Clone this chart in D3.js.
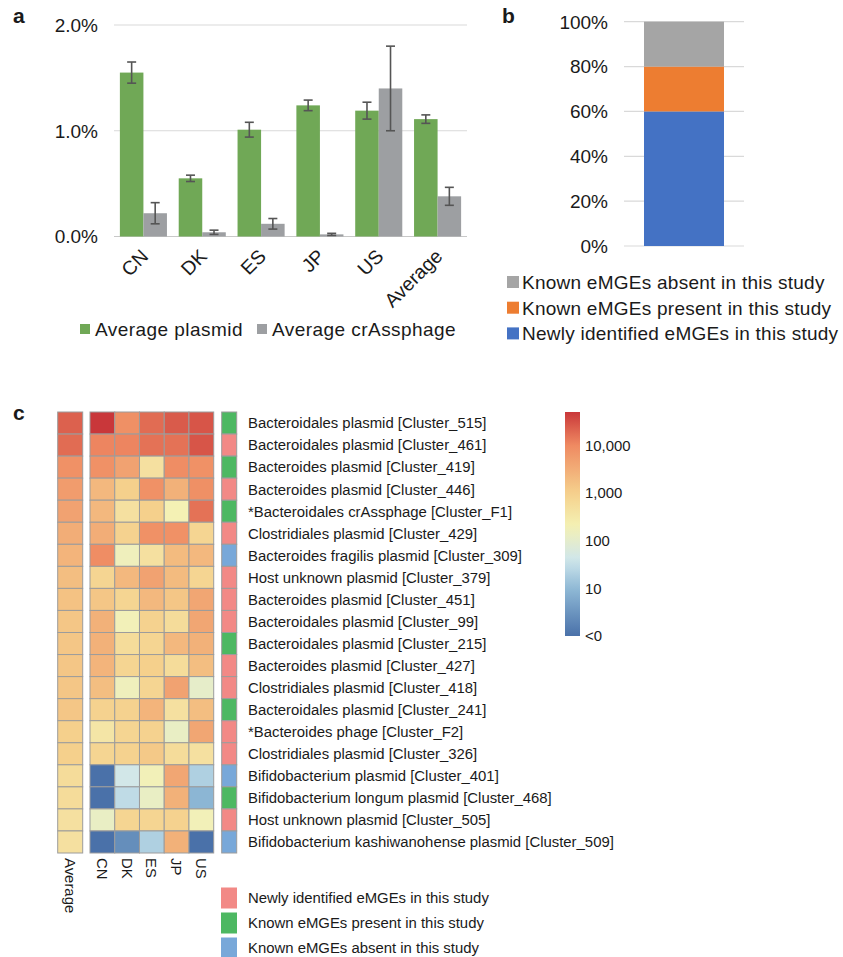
<!DOCTYPE html>
<html><head><meta charset="utf-8">
<script src="https://cdn.jsdelivr.net/npm/d3@7"></script>
<style>
body{margin:0;background:#fff}
svg text{font-family:"Liberation Sans",Arial,Helvetica,sans-serif;fill:#1a1a1a}
</style></head><body>
<svg id="fig" width="843" height="957"></svg>
<script>
// ---- panel a: relative abundance per site ----
const sites = ["CN", "DK", "ES", "JP", "US", "Average"];
const plasmidMean = [1.55, 0.55, 1.01, 1.24, 1.19, 1.11];
const plasmidErr  = [0.10, 0.03, 0.07, 0.05, 0.08, 0.04];
const phageMean   = [0.22, 0.04, 0.12, 0.02, 1.40, 0.38];
const phageErr    = [0.10, 0.02, 0.05, 0.01, 0.40, 0.085];
const barSeries   = ["Average plasmid", "Average crAssphage"];
const yTicksA     = [0, 1, 2];

// ---- panel b: composition of eMGE clusters ----
const groupNames  = ["Newly identified eMGEs in this study", "Known eMGEs present in this study", "Known eMGEs absent in this study"];
const groupShares = [60, 20, 20];
const yTicksB     = [0, 20, 40, 60, 80, 100];

// ---- panel c: abundance of top clusters ----
const clusters = [
  "Bacteroidales plasmid [Cluster_515]",
  "Bacteroidales plasmid [Cluster_461]",
  "Bacteroides plasmid [Cluster_419]",
  "Bacteroides plasmid [Cluster_446]",
  "*Bacteroidales crAssphage [Cluster_F1]",
  "Clostridiales plasmid [Cluster_429]",
  "Bacteroides fragilis plasmid [Cluster_309]",
  "Host unknown plasmid [Cluster_379]",
  "Bacteroides plasmid [Cluster_451]",
  "Bacteroidales plasmid [Cluster_99]",
  "Bacteroidales plasmid [Cluster_215]",
  "Bacteroides plasmid [Cluster_427]",
  "Clostridiales plasmid [Cluster_418]",
  "Bacteroidales plasmid [Cluster_241]",
  "*Bacteroides phage [Cluster_F2]",
  "Clostridiales plasmid [Cluster_326]",
  "Bifidobacterium plasmid [Cluster_401]",
  "Bifidobacterium longum plasmid [Cluster_468]",
  "Host unknown plasmid [Cluster_505]",
  "Bifidobacterium kashiwanohense plasmid [Cluster_509]"
];
// 0 = newly identified, 1 = known & present, 2 = known & absent
const clusterGroup = [1,0,1,0,1,0,2,0,0,0,1,0,0,1,0,0,2,1,0,2];
const countries = ["CN", "DK", "ES", "JP", "US"];
const avgAbund = [22000,18000,8000,5600,4500,3200,2500,1800,1600,1400,1400,1400,1400,1400,1000,1000,560,560,450,450];
const cnAbund  = [50000,11000,8000,2200,2200,3200,9000,800,1400,2800,2800,2500,1800,900,350,800,0,0,125,0];
const dkAbund  = [8300,11000,4500,1000,450,900,160,2200,800,180,560,800,160,900,800,900,45,28,800,2.5];
const esAbund  = [18000,16000,450,8000,1000,8000,450,4500,2200,900,800,1000,800,2500,900,1250,180,125,800,20];
const jpAbund  = [25000,16000,9000,2800,200,8000,2000,2000,1400,560,2200,560,4500,450,125,560,4000,2800,900,2800];
const usAbund  = [28000,28000,8000,8300,16000,800,2200,800,4000,4000,2800,1800,110,1800,4000,450,20,9,180,0];
const scaleTicks  = [1, 10, 100, 1000, 10000];
const scaleLabels = ["<0", "10", "100", "1,000", "10,000"];

const svg = d3.select("#fig");

// ================= panel a =================
const gA = svg.append("g");
const xA = d3.scaleBand().domain(sites).range([114, 467]).paddingInner(0.2).paddingOuter(0.1);
const xSub = d3.scaleBand().domain(barSeries).range([0, xA.bandwidth()]);
const yA = d3.scaleLinear().domain([0, 2]).range([236.5, 25]);
const barColors = ["#70a856", "#9d9fa2"];

gA.selectAll("line.grid").data(yTicksA).join("line")
  .attr("x1", 114).attr("x2", 467)
  .attr("y1", d => yA(d)).attr("y2", d => yA(d))
  .attr("stroke", d => d === 0 ? "#c8c8c8" : "#d9d9d9").attr("stroke-width", 1.2);
gA.selectAll("text.ytick").data(yTicksA).join("text")
  .attr("x", 98).attr("y", d => yA(d)).attr("dy", "0.36em")
  .attr("text-anchor", "end").attr("font-size", 19)
  .text(d => d.toFixed(1) + "%");

const seriesA = [
  {name: barSeries[0], mean: plasmidMean, err: plasmidErr, color: barColors[0]},
  {name: barSeries[1], mean: phageMean, err: phageErr, color: barColors[1]}
];
seriesA.forEach(s => {
  const rows = sites.map((site, i) => ({site, v: s.mean[i], e: s.err[i]}));
  gA.selectAll(null).data(rows).join("rect")
    .attr("x", d => xA(d.site) + xSub(s.name))
    .attr("width", xSub.bandwidth())
    .attr("y", d => yA(d.v)).attr("height", d => yA(0) - yA(d.v))
    .attr("fill", s.color);
  const eb = gA.selectAll(null).data(rows).join("g")
    .attr("stroke", "#555").attr("stroke-width", 1.6);
  const cx = d => xA(d.site) + xSub(s.name) + xSub.bandwidth() / 2;
  eb.append("line").attr("x1", cx).attr("x2", cx)
    .attr("y1", d => yA(d.v + d.e)).attr("y2", d => yA(d.v - d.e));
  eb.append("line").attr("x1", d => cx(d) - 4.5).attr("x2", d => cx(d) + 4.5)
    .attr("y1", d => yA(d.v + d.e)).attr("y2", d => yA(d.v + d.e));
  eb.append("line").attr("x1", d => cx(d) - 4.5).attr("x2", d => cx(d) + 4.5)
    .attr("y1", d => yA(d.v - d.e)).attr("y2", d => yA(d.v - d.e));
});

gA.selectAll("text.xlab").data(sites).join("text")
  .attr("text-anchor", "end").attr("font-size", 19.5)
  .attr("transform", d => `translate(${xA(d) + xA.bandwidth() / 2 + 6},${yA(0) + 21}) rotate(-45)`)
  .text(d => d);

const legA = gA.selectAll("g.leg").data(seriesA).join("g")
  .attr("transform", (d, i) => `translate(${i === 0 ? 80 : 257},329)`);
legA.append("rect").attr("x", 0).attr("y", -5).attr("width", 10).attr("height", 10).attr("fill", d => d.color);
legA.append("text").attr("x", 15).attr("dy", "0.36em").attr("font-size", 19).attr("letter-spacing", 0.45).text(d => d.name);

svg.append("text").attr("x", 13).attr("y", 23).attr("font-size", 21).attr("font-weight", "bold").text("a");

// ================= panel b =================
const gB = svg.append("g");
const xB = d3.scaleBand().domain(["all"]).range([624, 744]).padding(0.2);
const yB = d3.scaleLinear().domain([0, 100]).range([246, 21.7]);
const colorsB = ["#4472c4", "#ed7d31", "#a5a5a5"];

gB.selectAll("line").data(yTicksB).join("line")
  .attr("x1", 624).attr("x2", 744)
  .attr("y1", d => yB(d)).attr("y2", d => yB(d))
  .attr("stroke", "#d9d9d9").attr("stroke-width", 1.2);
gB.selectAll("text.ytick").data(yTicksB).join("text")
  .attr("x", 608).attr("y", d => yB(d)).attr("dy", "0.36em")
  .attr("text-anchor", "end").attr("font-size", 19)
  .text(d => d + "%");

const stackB = [];
let acc = 0;
groupShares.forEach((v, i) => { stackB.push({i, y0: acc, y1: acc + v}); acc += v; });
gB.selectAll("rect.seg").data(stackB).join("rect")
  .attr("x", xB("all")).attr("width", xB.bandwidth())
  .attr("y", d => yB(d.y1)).attr("height", d => yB(d.y0) - yB(d.y1))
  .attr("fill", d => colorsB[d.i]);

const legBOrder = [2, 1, 0];
const legB = gB.selectAll("g.leg").data(legBOrder).join("g")
  .attr("transform", (d, k) => `translate(507,${282 + k * 25.7})`);
legB.append("rect").attr("y", -6).attr("width", 12).attr("height", 12).attr("fill", d => colorsB[d]);
legB.append("text").attr("x", 15).attr("dy", "0.36em").attr("font-size", 19).attr("letter-spacing", 0.25)
  .text(d => groupNames[d]);

svg.append("text").attr("x", 502).attr("y", 23).attr("font-size", 21).attr("font-weight", "bold").text("b");

// ================= panel c =================
const gC = svg.append("g");
const yC = d3.scaleBand().domain(clusters).range([412, 853]);
const xC = d3.scaleBand().domain(countries).range([90, 213.7]);
const heatStops = [0, 1, 1.6, 2.3, 3, 4, 4.7];
const heatColors = ["#4a71a9", "#8fb9d6", "#cfe6ec", "#f4f1b4", "#f5d08c", "#ef8a62", "#c9373a"];
const heatScale = d3.scaleLinear().domain(heatStops).range(heatColors).interpolate(d3.interpolateRgb).clamp(true);
const heat = v => heatScale(Math.log10(Math.max(v, 1)));
const annColors = ["#f28986", "#4db862", "#78a8d9"];
const cellStroke = "#9c9c9c";

// average column
gC.selectAll("rect.avg").data(clusters).join("rect")
  .attr("x", 57.7).attr("width", 25)
  .attr("y", d => yC(d)).attr("height", yC.bandwidth())
  .attr("fill", (d, i) => heat(avgAbund[i]))
  .attr("stroke", cellStroke).attr("stroke-width", 1);

// per-country cells
const byCountry = [cnAbund, dkAbund, esAbund, jpAbund, usAbund];
const cells = [];
clusters.forEach((c, r) => countries.forEach((k, j) => cells.push({c, k, v: byCountry[j][r]})));
gC.selectAll("rect.cell").data(cells).join("rect")
  .attr("x", d => xC(d.k)).attr("width", xC.bandwidth())
  .attr("y", d => yC(d.c)).attr("height", yC.bandwidth())
  .attr("fill", d => heat(d.v))
  .attr("stroke", cellStroke).attr("stroke-width", 1);

// annotation column
gC.selectAll("rect.ann").data(clusters).join("rect")
  .attr("x", 221.7).attr("width", 15)
  .attr("y", d => yC(d)).attr("height", yC.bandwidth())
  .attr("fill", (d, i) => annColors[clusterGroup[i]])
  .attr("stroke", cellStroke).attr("stroke-width", 1);

// row labels
gC.selectAll("text.row").data(clusters).join("text")
  .attr("x", 248).attr("y", d => yC(d) + yC.bandwidth() / 2).attr("dy", "0.36em")
  .attr("font-size", 14.9).text(d => d);

// column labels
const colLabels = [{t: "Average", x: 57.7 + 12.5}].concat(countries.map(k => ({t: k, x: xC(k) + xC.bandwidth() / 2})));
gC.selectAll("text.col").data(colLabels).join("text")
  .attr("font-size", 14.9).attr("dy", "0.36em")
  .attr("transform", d => `translate(${d.x},858) rotate(90)`)
  .text(d => d.t);

// colour key
const keyY = d3.scaleLog().domain([1, 50000]).range([636, 412]);
const defs = svg.append("defs");
const grad = defs.append("linearGradient").attr("id", "heatgrad")
  .attr("x1", 0).attr("y1", 1).attr("x2", 0).attr("y2", 0);
d3.range(0, 1.0001, 0.05).forEach(t => {
  grad.append("stop").attr("offset", t).attr("stop-color", heatScale(t * Math.log10(50000)));
});
gC.append("rect").attr("x", 565).attr("width", 15)
  .attr("y", keyY(50000)).attr("height", keyY(1) - keyY(50000))
  .attr("fill", "url(#heatgrad)");
gC.selectAll("text.key").data(scaleTicks).join("text")
  .attr("x", 585).attr("y", d => keyY(d)).attr("dy", "0.36em")
  .attr("font-size", 14.9).text((d, i) => scaleLabels[i]);

// annotation legend
const legC = gC.selectAll("g.legc").data([0, 1, 2]).join("g")
  .attr("transform", (d, k) => `translate(221,${898 + k * 25})`);
legC.append("rect").attr("y", -10.5).attr("width", 16).attr("height", 21).attr("fill", d => annColors[d]);
legC.append("text").attr("x", 27).attr("dy", "0.36em").attr("font-size", 14.9).text(d => groupNames[d]);

svg.append("text").attr("x", 13).attr("y", 420).attr("font-size", 21).attr("font-weight", "bold").text("c");
</script>
</body></html>
